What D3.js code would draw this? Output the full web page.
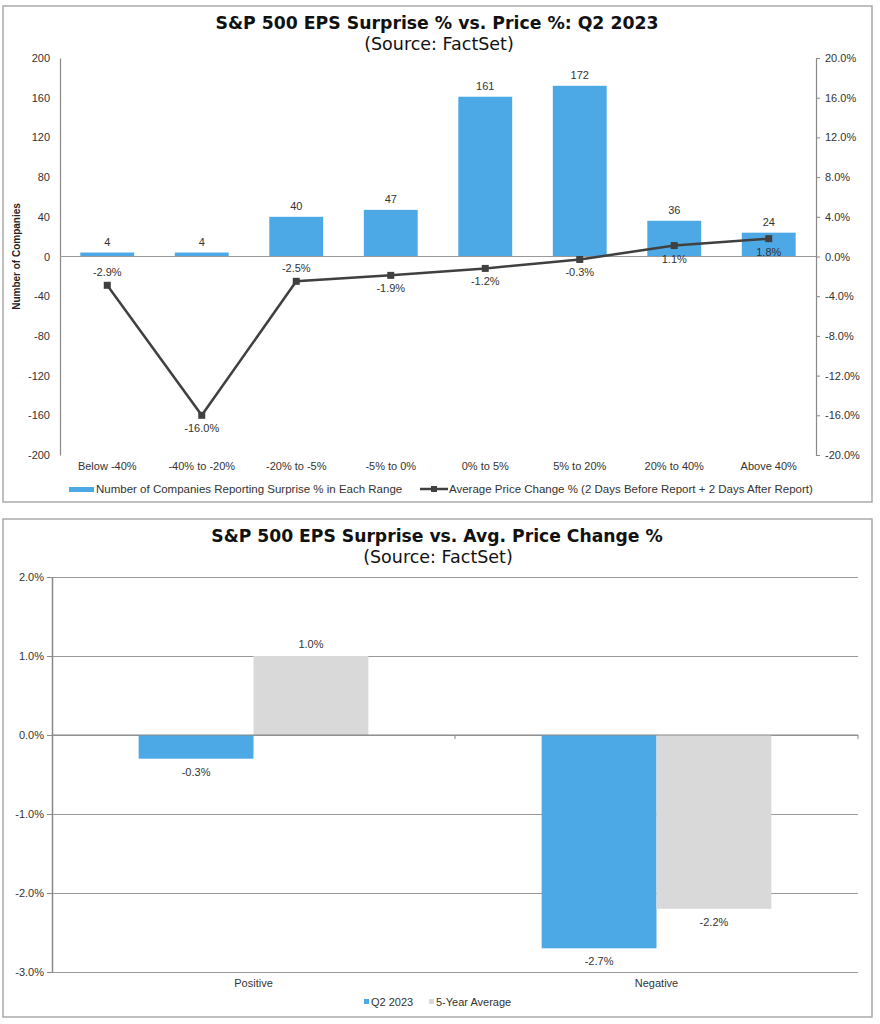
<!DOCTYPE html>
<html>
<head>
<meta charset="utf-8">
<script src="https://cdn.jsdelivr.net/npm/d3@7"></script>
<style>
  body { margin: 0; background: #fff; }
  text { font-family: "Liberation Sans", Arial, sans-serif; fill: #333; }
  .title { font-family: "DejaVu Sans", "Liberation Sans", sans-serif; }
</style>
</head>
<body>
<div id="chart"></div>
<script>
'use strict'

// ---- top chart data ----
const ranges = ['Below -40%', '-40% to -20%', '-20% to -5%', '-5% to 0%', '0% to 5%', '5% to 20%', '20% to 40%', 'Above 40%']
const companyCounts = [4, 4, 40, 47, 161, 172, 36, 24]
const avgPriceChange = [-2.9, -16.0, -2.5, -1.9, -1.2, -0.3, 1.1, 1.8]
const priceLabelAbove = [true, false, true, false, false, false, false, false]
const countTicks = [-200, -160, -120, -80, -40, 0, 40, 80, 120, 160, 200]
const pctTicks = [-20, -16, -12, -8, -4, 0, 4, 8, 12, 16, 20]

// ---- bottom chart data ----
const surpriseGroups = ['Positive', 'Negative']
const seriesNames = ['Q2 2023', '5-Year Average']
const q2Values = [-0.3, -2.7]
const fiveYearValues = [1.0, -2.2]
const bottomTicks = [-3, -2, -1, 0, 1, 2]

const blue = '#4DA9E6'
const grey = '#D9D9D9'
const lineColor = '#404040'

const svg = d3.select('#chart')
    .append('svg')
    .attr('width', 880)
    .attr('height', 1024)

////////////////////////////////////
////////////top panel///////////////
////////////////////////////////////

svg.append('rect')
    .attr('x', 3).attr('y', 6)
    .attr('width', 869).attr('height', 496)
    .attr('fill', 'none').attr('stroke', '#aaa').attr('stroke-width', 1.5)

svg.append('text')
    .attr('class', 'title')
    .attr('x', 437).attr('y', 29)
    .attr('text-anchor', 'middle')
    .style('font-size', '17.3px').style('font-weight', 'bold').style('fill', '#111')
    .text('S&P 500 EPS Surprise % vs. Price %: Q2 2023')

svg.append('text')
    .attr('class', 'title')
    .attr('x', 439).attr('y', 50)
    .attr('text-anchor', 'middle')
    .style('font-size', '17.5px').style('fill', '#111')
    .text('(Source: FactSet)')

const x = d3.scaleBand()
    .domain(ranges)
    .range([60, 816])

const yL = d3.scaleLinear()
    .domain([-200, 200])
    .range([455, 58])

const yR = d3.scaleLinear()
    .domain([-20, 20])
    .range([455, 58])

// left axis
const leftAxis = svg.append('g')
    .attr('transform', 'translate(60,0)')
    .call(d3.axisLeft(yL).tickValues(countTicks).tickSize(0).tickPadding(10).tickSizeOuter(0)
        .tickFormat(d => String(d)))
leftAxis.select('.domain').attr('stroke', '#888').attr('stroke-width', 1.2)
leftAxis.selectAll('text').style('font-size', '11px').style('fill', '#333')

// right axis
const rightAxis = svg.append('g')
    .attr('transform', 'translate(816,0)')
    .call(d3.axisRight(yR).tickValues(pctTicks).tickSize(4).tickPadding(5).tickSizeOuter(0)
        .tickFormat(d => d.toFixed(1) + '%'))
rightAxis.select('.domain').attr('stroke', '#888').attr('stroke-width', 1.2)
rightAxis.selectAll('line').attr('stroke', '#888')
rightAxis.selectAll('text').style('font-size', '11px').style('fill', '#333')

// y axis title
svg.append('text')
    .attr('transform', `translate(20,${yL(0)}) rotate(-90)`)
    .attr('text-anchor', 'middle')
    .style('font-family', '"Liberation Sans Narrow", "Arial Narrow", "Liberation Sans", sans-serif')
    .style('font-size', '10px').style('font-weight', 'bold').style('fill', '#222')
    .text('Number of Companies')

// bars
const barW = x.bandwidth() * 0.57
svg.selectAll('.count-bar')
    .data(companyCounts)
    .join('rect')
    .attr('class', 'count-bar')
    .attr('x', (d, i) => x(ranges[i]) + (x.bandwidth() - barW) / 2)
    .attr('y', d => yL(d))
    .attr('width', barW)
    .attr('height', d => yL(0) - yL(d))
    .attr('fill', blue)

// zero line
svg.append('line')
    .attr('x1', 60).attr('x2', 816)
    .attr('y1', yL(0)).attr('y2', yL(0))
    .attr('stroke', '#999').attr('stroke-width', 1.2)

svg.selectAll('.count-label')
    .data(companyCounts)
    .join('text')
    .attr('class', 'count-label')
    .attr('x', (d, i) => x(ranges[i]) + x.bandwidth() / 2)
    .attr('y', d => yL(d) - 7)
    .attr('text-anchor', 'middle')
    .style('font-size', '11px')
    .text(d => d)

// x labels
svg.selectAll('.range-label')
    .data(ranges)
    .join('text')
    .attr('class', 'range-label')
    .attr('x', d => x(d) + x.bandwidth() / 2)
    .attr('y', 470)
    .attr('text-anchor', 'middle')
    .style('font-size', '11px')
    .text(d => d)

// price line
const line = d3.line()
    .x((d, i) => x(ranges[i]) + x.bandwidth() / 2)
    .y(d => yR(d))

svg.append('path')
    .datum(avgPriceChange)
    .attr('d', line)
    .attr('fill', 'none')
    .attr('stroke', lineColor)
    .attr('stroke-width', 2.5)

svg.selectAll('.price-marker')
    .data(avgPriceChange)
    .join('rect')
    .attr('class', 'price-marker')
    .attr('x', (d, i) => x(ranges[i]) + x.bandwidth() / 2 - 3.5)
    .attr('y', d => yR(d) - 3.5)
    .attr('width', 7).attr('height', 7)
    .attr('fill', lineColor)

svg.selectAll('.price-label')
    .data(avgPriceChange)
    .join('text')
    .attr('class', 'price-label')
    .attr('x', (d, i) => x(ranges[i]) + x.bandwidth() / 2)
    .attr('y', (d, i) => priceLabelAbove[i] ? yR(d) - 9 : yR(d) + 17)
    .attr('text-anchor', 'middle')
    .style('font-size', '11px')
    .text(d => d.toFixed(1) + '%')

// legend
const legTop = svg.append('g').attr('transform', 'translate(0,489)')
legTop.append('rect').attr('x', 69).attr('y', -2).attr('width', 25).attr('height', 5).attr('fill', blue)
legTop.append('text').attr('x', 96).attr('y', 4).style('font-size', '11.5px')
    .text('Number of Companies Reporting Surprise % in Each Range')
legTop.append('line').attr('x1', 420).attr('x2', 448).attr('y1', 0).attr('y2', 0)
    .attr('stroke', lineColor).attr('stroke-width', 2.5)
legTop.append('rect').attr('x', 431).attr('y', -3).attr('width', 6).attr('height', 6).attr('fill', lineColor)
legTop.append('text').attr('x', 449).attr('y', 4).style('font-size', '11.5px')
    .text('Average Price Change % (2 Days Before Report + 2 Days After Report)')

////////////////////////////////////
///////////bottom panel/////////////
////////////////////////////////////

svg.append('rect')
    .attr('x', 3).attr('y', 519)
    .attr('width', 869).attr('height', 498)
    .attr('fill', 'none').attr('stroke', '#aaa').attr('stroke-width', 1.5)

svg.append('text')
    .attr('class', 'title')
    .attr('x', 437).attr('y', 542)
    .attr('text-anchor', 'middle')
    .style('font-size', '17.2px').style('font-weight', 'bold').style('fill', '#111')
    .text('S&P 500 EPS Surprise vs. Avg. Price Change %')

svg.append('text')
    .attr('class', 'title')
    .attr('x', 438).attr('y', 563)
    .attr('text-anchor', 'middle')
    .style('font-size', '17.5px').style('fill', '#111')
    .text('(Source: FactSet)')

const x0 = d3.scaleBand()
    .domain(surpriseGroups)
    .range([52, 858])

const groupW = x0.bandwidth() * 0.57
const x1 = d3.scaleBand()
    .domain(seriesNames)
    .range([0, groupW])

const yB = d3.scaleLinear()
    .domain([-3, 2])
    .range([972, 577])

// gridlines
svg.append('g')
    .attr('transform', 'translate(52,0)')
    .call(d3.axisLeft(yB).tickValues(bottomTicks).tickSize(-806).tickFormat(''))
    .call(g => g.select('.domain').remove())
    .selectAll('line').attr('stroke', '#999').attr('stroke-width', 1.2)

const bottomRows = surpriseGroups.map((g, i) => ({ group: g, values: [q2Values[i], fiveYearValues[i]] }))

const groups = svg.selectAll('.bar-group')
    .data(bottomRows)
    .join('g')
    .attr('class', 'bar-group')
    .attr('transform', d => `translate(${x0(d.group) + (x0.bandwidth() - groupW) / 2},0)`)

groups.selectAll('rect')
    .data(d => d.values.map((v, j) => ({ series: seriesNames[j], value: v })))
    .join('rect')
    .attr('x', d => x1(d.series))
    .attr('y', d => yB(Math.max(0, d.value)))
    .attr('width', x1.bandwidth())
    .attr('height', d => Math.abs(yB(d.value) - yB(0)))
    .attr('fill', d => d.series === 'Q2 2023' ? blue : grey)

groups.selectAll('text')
    .data(d => d.values.map((v, j) => ({ series: seriesNames[j], value: v })))
    .join('text')
    .attr('x', d => x1(d.series) + x1.bandwidth() / 2)
    .attr('y', d => d.value >= 0 ? yB(d.value) - 8 : yB(d.value) + 17)
    .attr('text-anchor', 'middle')
    .style('font-size', '11px')
    .text(d => d.value.toFixed(1) + '%')

// zero axis with category ticks
svg.append('line')
    .attr('x1', 52).attr('x2', 858)
    .attr('y1', yB(0)).attr('y2', yB(0))
    .attr('stroke', '#888').attr('stroke-width', 1.2)
svg.selectAll('.cat-tick')
    .data(surpriseGroups)
    .join('line')
    .attr('class', 'cat-tick')
    .attr('x1', d => x0(d) + x0.bandwidth()).attr('x2', d => x0(d) + x0.bandwidth())
    .attr('y1', yB(0)).attr('y2', yB(0) + 4)
    .attr('stroke', '#888')

// left axis
const bAxis = svg.append('g')
    .attr('transform', 'translate(52,0)')
    .call(d3.axisLeft(yB).tickValues(bottomTicks).tickSize(5).tickPadding(3).tickSizeOuter(0)
        .tickFormat(d => d.toFixed(1) + '%'))
bAxis.select('.domain').attr('stroke', '#888').attr('stroke-width', 1.5)
bAxis.selectAll('line').attr('stroke', '#888')
bAxis.selectAll('text').style('font-size', '11px').style('fill', '#333')

// category labels
svg.selectAll('.group-label')
    .data(surpriseGroups)
    .join('text')
    .attr('class', 'group-label')
    .attr('x', d => x0(d) + x0.bandwidth() / 2)
    .attr('y', 987)
    .attr('text-anchor', 'middle')
    .style('font-size', '11px')
    .text(d => d)

// legend
const legBottom = svg.append('g').attr('transform', 'translate(0,1002)')
legBottom.append('rect').attr('x', 364).attr('y', -3).attr('width', 5).attr('height', 5).attr('fill', blue)
legBottom.append('text').attr('x', 371).attr('y', 4).style('font-size', '11px').text('Q2 2023')
legBottom.append('rect').attr('x', 429).attr('y', -3).attr('width', 5).attr('height', 5).attr('fill', grey)
legBottom.append('text').attr('x', 436).attr('y', 4).style('font-size', '11px').text('5-Year Average')
</script>
</body>
</html>
